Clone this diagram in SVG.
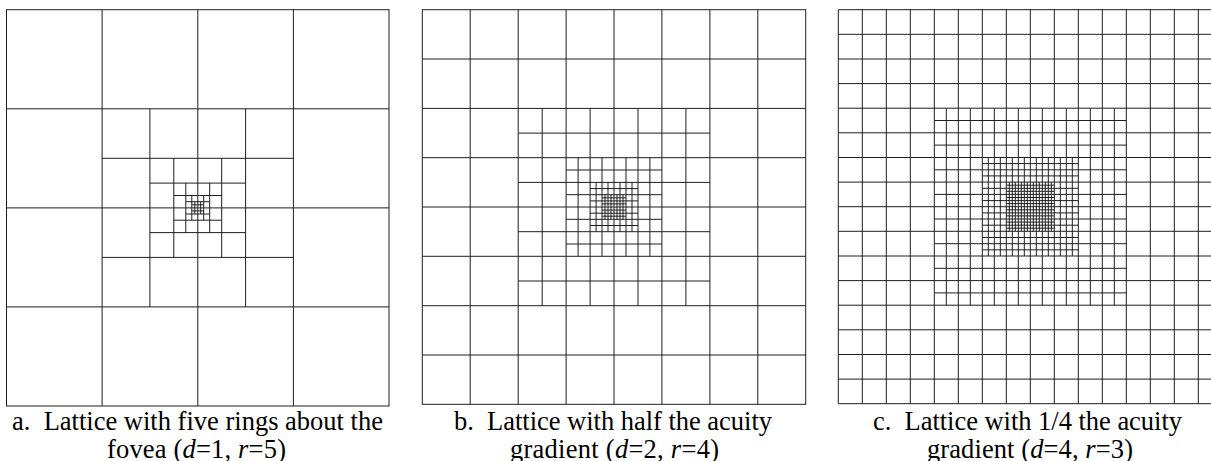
<svg xmlns="http://www.w3.org/2000/svg" width="1211" height="461" viewBox="0 0 1211 461">
<style>
.grid{fill:none;stroke:#1e1e1e;stroke-width:1}
.cap{font-family:"Liberation Serif","Times New Roman",serif;font-size:26.5px;fill:#000;text-anchor:middle}
.it{font-style:italic}
</style>
<rect width="1211" height="461" fill="#fff"/>
<g id="lattice-a">
<rect class="grid" x="6.5" y="9.7" width="382.5" height="396.3"/>
<path class="grid" d="M102.1 9.7V406M197.8 9.7V108.8M197.8 306.9V406M293.4 9.7V406M6.5 108.8H389M6.5 207.9H102.1M293.4 207.9H389M6.5 306.9H389
M149.9 108.8V306.9M197.8 108.8V158.3M197.8 257.4V306.9M245.6 108.8V306.9M102.1 158.3H293.4M102.1 207.9H149.9M245.6 207.9H293.4M102.1 257.4H293.4
M173.8 158.3V257.4M197.8 158.3V183.1M197.8 232.6V257.4M221.7 158.3V257.4M149.9 183.1H245.6M149.9 207.9H173.8M221.7 207.9H245.6M149.9 232.6H245.6
M185.8 183.1V232.6M197.8 183.1V195.5M197.8 220.2V232.6M209.7 183.1V232.6M173.8 195.5H221.7M173.8 207.9H185.8M209.7 207.9H221.7M173.8 220.2H221.7
M191.8 195.5V220.2M197.8 195.5V201.7M197.8 214V220.2M203.7 195.5V220.2M185.8 201.7H209.7M185.8 207.9H191.8M203.7 207.9H209.7M185.8 214H209.7
M194.8 201.7V214M197.8 201.7V214M200.7 201.7V214M191.8 204.8H203.7M191.8 207.9H203.7M191.8 210.9H203.7"/>
<text class="cap" x="197.5" y="430" textLength="371">a.&#160; Lattice with five rings about the</text>
<text class="cap" x="196.5" y="458" textLength="179">fovea (<tspan class="it">d</tspan>=1, <tspan class="it">r</tspan>=5)</text>
</g>
<g id="lattice-b">
<rect class="grid" x="422.3" y="9.7" width="383.4" height="394.6"/>
<path class="grid" d="M470.2 9.7V404.3M518.2 9.7V404.3M709.9 9.7V404.3M757.8 9.7V404.3
M566.1 9.7V108.4M566.1 305.7V404.3M614 9.7V108.4M614 305.7V404.3M661.9 9.7V108.4M661.9 305.7V404.3
M422.3 59H805.7M422.3 108.4H805.7M422.3 305.7H805.7M422.3 355H805.7
M422.3 157.7H518.2M709.9 157.7H805.7M422.3 207H518.2M709.9 207H805.7M422.3 256.3H518.2M709.9 256.3H805.7
M542.2 108.4V305.7M566.1 108.4V305.7M661.9 108.4V305.7M685.9 108.4V305.7
M590.1 108.4V157.7M590.1 256.3V305.7M614 108.4V157.7M614 256.3V305.7M638 108.4V157.7M638 256.3V305.7
M518.2 133.1H709.9M518.2 157.7H709.9M518.2 256.3H709.9M518.2 281H709.9
M518.2 182.4H566.1M661.9 182.4H709.9M518.2 207H566.1M661.9 207H709.9M518.2 231.7H566.1M661.9 231.7H709.9
M578.1 157.7V256.3M590.1 157.7V256.3M638 157.7V256.3M649.9 157.7V256.3
M602 157.7V182.4M602 231.7V256.3M614 157.7V182.4M614 231.7V256.3M626 157.7V182.4M626 231.7V256.3
M566.1 170H661.9M566.1 182.4H661.9M566.1 231.7H661.9M566.1 244H661.9
M566.1 194.7H590.1M638 194.7H661.9M566.1 207H590.1M638 207H661.9M566.1 219.3H590.1M638 219.3H661.9
M596.1 182.4V231.7M602 182.4V231.7M626 182.4V231.7M632 182.4V231.7
M608 182.4V194.7M608 219.3V231.7M614 182.4V194.7M614 219.3V231.7M620 182.4V194.7M620 219.3V231.7
M590.1 188.6H638M590.1 194.7H638M590.1 219.3H638M590.1 225.5H638
M590.1 200.9H602M626 200.9H638M590.1 207H602M626 207H638M590.1 213.2H602M626 213.2H638
M605 194.7V219.3M608 194.7V219.3M611 194.7V219.3M614 194.7V219.3M617 194.7V219.3M620 194.7V219.3M623 194.7V219.3
M602 197.8H626M602 200.9H626M602 203.9H626M602 207H626M602 210.1H626M602 213.2H626M602 216.2H626"/>
<text class="cap" x="613" y="430" textLength="318">b.&#160; Lattice with half the acuity</text>
<text class="cap" x="614.5" y="458" textLength="209">gradient (<tspan class="it">d</tspan>=2, <tspan class="it">r</tspan>=4)</text>
</g>
<g id="lattice-c">
<path class="grid" d="M1222.3 9.7H838.3V403.7H1222.3
M862.3 9.7V403.7M886.3 9.7V403.7M910.3 9.7V403.7M934.3 9.7V403.7M1126.3 9.7V403.7M1150.3 9.7V403.7M1174.3 9.7V403.7M1198.3 9.7V403.7
M958.3 9.7V108.2M958.3 305.2V403.7M982.3 9.7V108.2M982.3 305.2V403.7M1006.3 9.7V108.2M1006.3 305.2V403.7M1030.3 9.7V108.2M1030.3 305.2V403.7M1054.3 9.7V108.2M1054.3 305.2V403.7M1078.3 9.7V108.2M1078.3 305.2V403.7M1102.3 9.7V108.2M1102.3 305.2V403.7
M838.3 34.3H1222.3M838.3 59H1222.3M838.3 83.6H1222.3M838.3 108.2H1222.3M838.3 305.2H1222.3M838.3 329.8H1222.3M838.3 354.5H1222.3M838.3 379.1H1222.3
M838.3 132.8H934.3M1126.3 132.8H1222.3M838.3 157.5H934.3M1126.3 157.5H1222.3M838.3 182.1H934.3M1126.3 182.1H1222.3M838.3 206.7H934.3M1126.3 206.7H1222.3M838.3 231.3H934.3M1126.3 231.3H1222.3M838.3 256H934.3M1126.3 256H1222.3M838.3 280.6H934.3M1126.3 280.6H1222.3
M946.3 108.2V305.2M958.3 108.2V305.2M970.3 108.2V305.2M982.3 108.2V305.2M1078.3 108.2V305.2M1090.3 108.2V305.2M1102.3 108.2V305.2M1114.3 108.2V305.2
M994.3 108.2V157.5M994.3 256V305.2M1006.3 108.2V157.5M1006.3 256V305.2M1018.3 108.2V157.5M1018.3 256V305.2M1030.3 108.2V157.5M1030.3 256V305.2M1042.3 108.2V157.5M1042.3 256V305.2M1054.3 108.2V157.5M1054.3 256V305.2M1066.3 108.2V157.5M1066.3 256V305.2
M934.3 120.5H1126.3M934.3 132.8H1126.3M934.3 145.1H1126.3M934.3 157.5H1126.3M934.3 256H1126.3M934.3 268.3H1126.3M934.3 280.6H1126.3M934.3 292.9H1126.3
M934.3 169.8H982.3M1078.3 169.8H1126.3M934.3 182.1H982.3M1078.3 182.1H1126.3M934.3 194.4H982.3M1078.3 194.4H1126.3M934.3 206.7H982.3M1078.3 206.7H1126.3M934.3 219H982.3M1078.3 219H1126.3M934.3 231.3H982.3M1078.3 231.3H1126.3M934.3 243.7H982.3M1078.3 243.7H1126.3
M988.3 157.5V256M994.3 157.5V256M1000.3 157.5V256M1006.3 157.5V256M1054.3 157.5V256M1060.3 157.5V256M1066.3 157.5V256M1072.3 157.5V256
M1012.3 157.5V182.1M1012.3 231.3V256M1018.3 157.5V182.1M1018.3 231.3V256M1024.3 157.5V182.1M1024.3 231.3V256M1030.3 157.5V182.1M1030.3 231.3V256M1036.3 157.5V182.1M1036.3 231.3V256M1042.3 157.5V182.1M1042.3 231.3V256M1048.3 157.5V182.1M1048.3 231.3V256
M982.3 163.6H1078.3M982.3 169.8H1078.3M982.3 175.9H1078.3M982.3 182.1H1078.3M982.3 231.3H1078.3M982.3 237.5H1078.3M982.3 243.7H1078.3M982.3 249.8H1078.3
M982.3 188.3H1006.3M1054.3 188.3H1078.3M982.3 194.4H1006.3M1054.3 194.4H1078.3M982.3 200.6H1006.3M1054.3 200.6H1078.3M982.3 206.7H1006.3M1054.3 206.7H1078.3M982.3 212.9H1006.3M1054.3 212.9H1078.3M982.3 219H1006.3M1054.3 219H1078.3M982.3 225.2H1006.3M1054.3 225.2H1078.3
M1009.3 182.1V231.3M1012.3 182.1V231.3M1015.3 182.1V231.3M1018.3 182.1V231.3M1021.3 182.1V231.3M1024.3 182.1V231.3M1027.3 182.1V231.3M1030.3 182.1V231.3M1033.3 182.1V231.3M1036.3 182.1V231.3M1039.3 182.1V231.3M1042.3 182.1V231.3M1045.3 182.1V231.3M1048.3 182.1V231.3M1051.3 182.1V231.3
M1006.3 185.2H1054.3M1006.3 188.3H1054.3M1006.3 191.3H1054.3M1006.3 194.4H1054.3M1006.3 197.5H1054.3M1006.3 200.6H1054.3M1006.3 203.6H1054.3M1006.3 206.7H1054.3M1006.3 209.8H1054.3M1006.3 212.9H1054.3M1006.3 215.9H1054.3M1006.3 219H1054.3M1006.3 222.1H1054.3M1006.3 225.2H1054.3M1006.3 228.2H1054.3"/>
<text class="cap" x="1027.5" y="430" textLength="309">c.&#160; Lattice with 1/4 the acuity</text>
<text class="cap" x="1030" y="458" textLength="206">gradient (<tspan class="it">d</tspan>=4, <tspan class="it">r</tspan>=3)</text>
</g>
</svg>
